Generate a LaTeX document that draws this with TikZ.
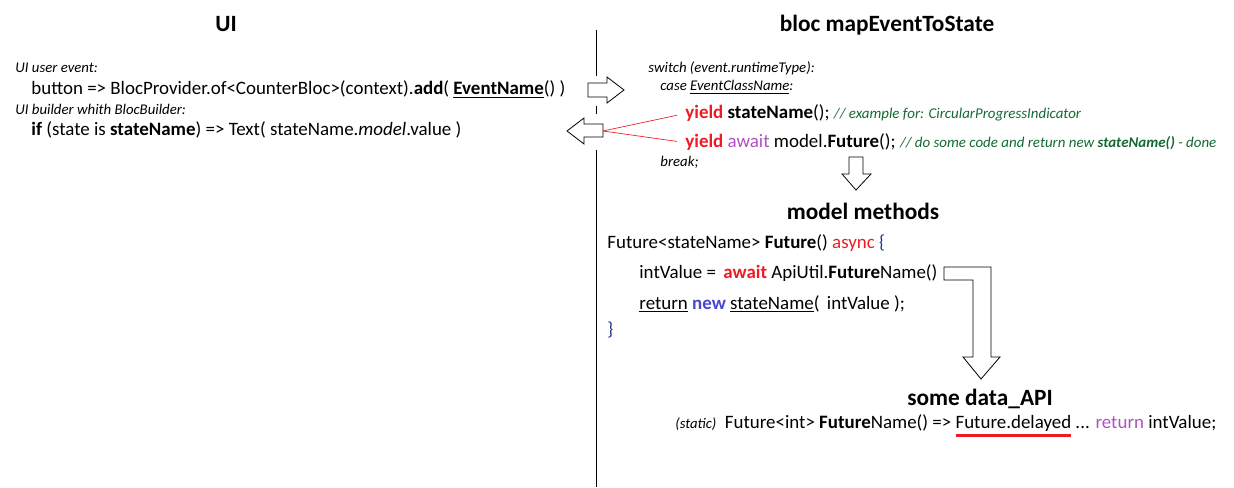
\documentclass[tikz,border=0pt]{standalone}
\usepackage{fontspec}
\setmainfont{Carlito}
\definecolor{kwred}{RGB}{237,28,36}
\definecolor{kwpurple}{RGB}{176,80,192}
\definecolor{kwblue}{RGB}{70,70,210}
\definecolor{cmtgreen}{RGB}{20,105,50}
\definecolor{bracenavy}{RGB}{31,58,128}
\newcommand{\cmtfont}{\fontsize{11.2}{13}\selectfont\itshape\color{cmtgreen}}
\newcommand{\redul}[1]{\setbox0\hbox{#1}\rlap{\color{kwred}\rule[-6.4pt]{\wd0}{2pt}}\box0\relax}

\begin{document}
\begin{tikzpicture}[x=0.75pt, y=-0.75pt, line width=0.6pt,
  title/.style={font=\fontsize{17.5}{20}\selectfont\bfseries, inner sep=0pt, anchor=base},
  code/.style={font=\fontsize{14.2}{17}\selectfont, inner sep=0pt, anchor=base west},
  note/.style={font=\fontsize{11.1}{13}\selectfont\itshape, inner sep=0pt, anchor=base west},
  blockarrow/.style={draw=black, fill=white, line width=0.6pt}]
  \useasboundingbox (0,0) rectangle (1234,488);
  % divider
  \draw (596,30) -- (596,76);
  \draw (596,106) -- (596,114);
  \draw (596,150) -- (596,487);
  % titles
  \node[title] (uititle) at (226,32) {UI};
  \node[title] (bloctitle) at (887,32) {bloc mapEventToState};
  % UI side
  \node[note] (uievent) at (15,73) {UI user event:};
  \node[code] (button) at (31,95) {button => BlocProvider.of<CounterBloc>(context).\textbf{add}( \underline{\textbf{EventName}}() )};
  \node[note] (uibuilder) at (15,115) {UI builder whith BlocBuilder:};
  \node[code] (iftext) at (31,136) {\textbf{if} (state is \textbf{stateName}) => Text( stateName.\textit{model}.value )};
  % block arrows
  \draw[blockarrow] (588,83) -- (607,83) -- (607,77) -- (624,90) -- (607,103) -- (607,97) -- (588,97) -- cycle;
  \draw[blockarrow] (603,124) -- (584,124) -- (584,118) -- (567,131) -- (584,144) -- (584,137) -- (603,137) -- cycle;
  \coordinate (backtail) at (603,131);
  % bloc side
  \node[note] (switch) at (648,73) {switch (event.runtimeType):};
  \node[note] (caseline) at (660,91) {case \underline{EventClassName}:};
  \node[code] (yieldstate) at (685,119) {\textcolor{kwred}{\textbf{yield}} \textbf{stateName}(); {\cmtfont // example for: CircularProgressIndicator}};
  \node[code] (yieldfuture) at (685,148) {\textcolor{kwred}{\textbf{yield}} \textcolor{kwpurple}{await} model.\textbf{Future}(); {\cmtfont // do some code and return new \textbf{stateName()} - done}};
  \node[note] (breakline) at (660,167) {break;};
  \draw[kwred, line width=0.5pt, shorten >=6pt] (backtail) -- (yieldstate.west);
  \draw[kwred, line width=0.5pt, shorten >=6pt] (backtail) -- (yieldfuture.west);
  \draw[blockarrow] (849,157) -- (863,157) -- (863,174) -- (871,174) -- (856,190) -- (842,174) -- (849,174) -- cycle;
  % model methods
  \node[title] (modeltitle) at (863,220) {model methods};
  \node[code] (futuredecl) at (607,248) {Future<stateName> \textbf{Future}() \textcolor{kwred}{async} \textcolor{bracenavy}{\{}};
  \node[code] (intvalue) at (639,278) {intValue = \,\textcolor{kwred}{\textbf{await}} ApiUtil.\textbf{Future}Name()};
  \node[code] (returnline) at (639,309) {\underline{return} \textcolor{kwblue}{\textbf{new}} \underline{stateName}( \,intValue );};
  \node[code] (closebrace) at (607,335) {\textcolor{bracenavy}{\}}};
  \draw[blockarrow] (944,267) -- (991,267) -- (991,357) -- (1000,357) -- (981,379) -- (963,357) -- (973,357) -- (973,280) -- (944,280) -- cycle;
  % data api
  \node[title] (apititle) at (980,405) {some data\_API};
  \node[code] (apiline) at (675,428) {{\fontsize{11}{13}\selectfont\itshape (static)} \ Future<int> \textbf{Future}Name() => \redul{Future.delayed} ... \textcolor{kwpurple}{return} intValue;};
\end{tikzpicture}
\end{document}
